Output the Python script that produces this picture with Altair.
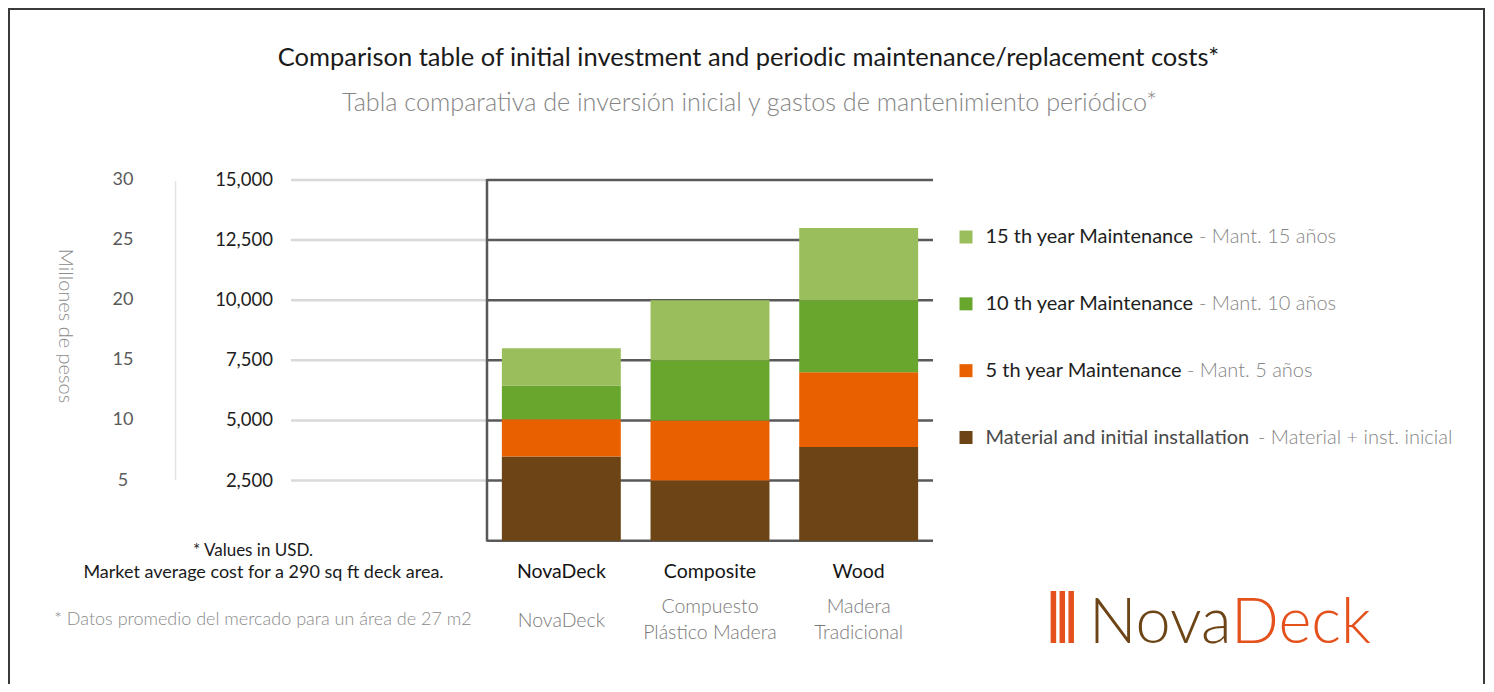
import altair as alt
import pandas as pd

# ---------------- data ----------------
categories = ["NovaDeck", "Composite", "Wood"]
categories_es = ["NovaDeck", "Compuesto\nPlástico Madera", "Madera\nTradicional"]
series = ["Material and initial installation", "5 th year Maintenance",
          "10 th year Maintenance", "15 th year Maintenance"]
series_es = ["Material + inst. inicial", "Mant. 5 años", "Mant. 10 años", "Mant. 15 años"]
colors = ["#6C4415", "#E96000", "#68A62D", "#9BBE5D"]

material = [3500, 2500, 3900]
maint5 = [1550, 2500, 3100]
maint10 = [1400, 2500, 3000]
maint15 = [1550, 2500, 3000]

usd_ticks = [2500, 5000, 7500, 10000, 12500, 15000]
usd_labels = ["2,500", "5,000", "7,500", "10,000", "12,500", "15,000"]
cop_labels = ["5", "10", "15", "20", "25", "30"]
grid_ticks = [0, 2500, 5000, 7500, 10000, 12500, 15000]

# ---------------- tables ----------------
rows = []
for s_i, (s, vals) in enumerate(zip(series, [material, maint5, maint10, maint15])):
    for c, v in zip(categories, vals):
        rows.append({"cat": c, "series": s, "value": v, "ord": s_i})
bars_df = pd.DataFrame(rows)

cat_df = pd.DataFrame({"cat": categories, "es": categories_es})
cat_df["multi"] = cat_df["es"].str.contains("\n")
tick_df = pd.DataFrame({"v": usd_ticks, "usd": usd_labels, "cop": cop_labels})
grid_df = pd.DataFrame({"v": grid_ticks})
leg_df = pd.DataFrame({
    "series": series[::-1],
    "es": ["- " + e for e in series_es[::-1]],
    "idx": list(range(len(series))),
})
one = grid_df[grid_df.v == 0]

# ---------------- scales ----------------
W, H = 1478, 676
FONT = "Lato"
yscale = alt.Scale(domain=[0, 15000], range=[532.7, 172], nice=False, zero=True)
xscale = alt.Scale(domain=categories, range=[479, 925], paddingInner=0.2, paddingOuter=0.1)
cscale = alt.Scale(domain=series, range=colors)
legscale = alt.Scale(domain=[0, 3], range=[229, 429.5])
leg_es_x = alt.Scale(domain=[0, 1, 2, 3], range=[1191, 1191, 1179, 1250])

frame = alt.Chart(one).mark_rect(fill="white", stroke="#3a3a3a", strokeWidth=2).encode(
    x=alt.value(1), x2=alt.value(W - 2), y=alt.value(1), y2=alt.value(H + 20)
)

light_grid = alt.Chart(tick_df).mark_rule(color="#d9d9d9", strokeWidth=2.5).encode(
    y=alt.Y("v:Q", scale=yscale, axis=None), x=alt.value(283), x2=alt.value(479)
)
dark_grid = alt.Chart(grid_df).mark_rule(color="#595959", strokeWidth=2.5).encode(
    y=alt.Y("v:Q", scale=yscale, axis=None), x=alt.value(479), x2=alt.value(925)
)
left_axis = alt.Chart(one).mark_rule(color="#595959", strokeWidth=2.5).encode(
    x=alt.value(479), y=alt.value(171), y2=alt.value(533.5)
)
cop_line = alt.Chart(one).mark_rule(color="#e3e3e3", strokeWidth=1.5).encode(
    x=alt.value(167.5), y=alt.value(173), y2=alt.value(472)
)

usd_text = alt.Chart(tick_df).mark_text(align="right", baseline="middle", font=FONT,
                                        fontSize=18.5, color="#1e1e1e").encode(
    y=alt.Y("v:Q", scale=yscale, axis=None), x=alt.value(265), text="usd:N"
)
cop_text = alt.Chart(tick_df).mark_text(align="center", baseline="middle", font=FONT,
                                        fontSize=18, color="#5a5a5a").encode(
    y=alt.Y("v:Q", scale=yscale, axis=None), x=alt.value(115), text="cop:N"
)

bars = alt.Chart(bars_df).mark_bar().encode(
    x=alt.X("cat:N", scale=xscale, axis=None),
    y=alt.Y("value:Q", stack="zero", scale=yscale, axis=None),
    color=alt.Color("series:N", scale=cscale, legend=None),
    order=alt.Order("ord:Q", sort="ascending"),
)

cat_en = alt.Chart(cat_df).mark_text(align="center", baseline="middle", font=FONT,
                                     fontSize=19.5, color="#151515").encode(
    x=alt.X("cat:N", scale=xscale, axis=None), y=alt.value(564), text="cat:N"
)
es_props = dict(align="center", baseline="middle", font=FONT, fontWeight=300,
                fontSize=19.5, color="#7a7a7a", lineBreak="\n", lineHeight=26)
cat_es_single = alt.Chart(cat_df).mark_text(**es_props).encode(
    x=alt.X("cat:N", scale=xscale, axis=None), y=alt.value(612.5), text="es:N"
).transform_filter("!datum.multi")
cat_es_multi = alt.Chart(cat_df).mark_text(**es_props).encode(
    x=alt.X("cat:N", scale=xscale, axis=None), y=alt.value(599), text="es:N"
).transform_filter("datum.multi")

leg_sq = alt.Chart(leg_df).mark_square(size=169, opacity=1).encode(
    x=alt.value(958), y=alt.Y("idx:Q", scale=legscale, axis=None),
    color=alt.Color("series:N", scale=cscale, legend=None),
)
leg_en = alt.Chart(leg_df).mark_text(align="left", baseline="middle", font=FONT,
                                     fontSize=20).encode(
    x=alt.value(977.5), y=alt.Y("idx:Q", scale=legscale, axis=None), text="series:N",
    color=alt.condition("datum.idx == 3", alt.value("#4a4a4a"), alt.value("#1e1e1e")),
)
leg_es = alt.Chart(leg_df).mark_text(align="left", baseline="middle", font=FONT, fontWeight=300,
                                     fontSize=20, color="#858585").encode(
    x=alt.X("idx:Q", scale=leg_es_x, axis=None),
    y=alt.Y("idx:Q", scale=legscale, axis=None), text="es:N"
)

title_en = alt.Chart(one).mark_text(align="center", baseline="middle", font=FONT,
                                    fontSize=25.5, color="#1a1a1a").encode(
    x=alt.value(740.5), y=alt.value(50),
    text=alt.value("Comparison table of initial investment and periodic maintenance/replacement costs*"),
)
title_es = alt.Chart(one).mark_text(align="center", baseline="middle", font=FONT, fontWeight=300,
                                    fontSize=25.2, color="#858585").encode(
    x=alt.value(741.5), y=alt.value(95),
    text=alt.value("Tabla comparativa de inversión inicial y gastos de mantenimiento periódico*"),
)
ylab = alt.Chart(one).mark_text(align="center", baseline="middle", font=FONT, fontWeight=300,
                                fontSize=20, color="#8a8a8a", angle=90).encode(
    x=alt.value(57), y=alt.value(318), text=alt.value("Millones de pesos"),
)

note1 = alt.Chart(one).mark_text(align="center", baseline="middle", font=FONT,
                                 fontSize=17, color="#1a1a1a").encode(
    x=alt.value(245), y=alt.value(543), text=alt.value("* Values in USD."),
)
note2 = alt.Chart(one).mark_text(align="center", baseline="middle", font=FONT,
                                 fontSize=18, color="#1a1a1a").encode(
    x=alt.value(255.5), y=alt.value(565),
    text=alt.value("Market average cost for a 290 sq ft deck area."),
)
note3 = alt.Chart(one).mark_text(align="center", baseline="middle", font=FONT, fontWeight=300,
                                 fontSize=18, color="#8a8a8a").encode(
    x=alt.value(255), y=alt.value(612),
    text=alt.value("* Datos promedio del mercado para un área de 27 m2"),
)

logo_bars = alt.Chart(pd.DataFrame({"k": [0, 1, 2]})).mark_rule(color="#E5511C", strokeWidth=5.5).encode(
    x=alt.X("k:Q", scale=alt.Scale(domain=[0, 2], range=[1045.4, 1063.2]), axis=None),
    y=alt.value(583), y2=alt.value(635),
)
logo_nova = alt.Chart(one).mark_text(align="left", baseline="alphabetic", font=FONT,
                                     fontWeight=300, fontSize=63, color="#6C4415").encode(
    x=alt.value(1081), y=alt.value(635), text=alt.value("Nova"),
)
logo_deck = alt.Chart(one).mark_text(align="left", baseline="alphabetic", font=FONT,
                                     fontWeight=300, fontSize=63, color="#E5511C").encode(
    x=alt.value(1223), y=alt.value(635), text=alt.value("Deck"),
)

chart = alt.layer(
    frame, light_grid, dark_grid, cop_line, usd_text, cop_text, bars, left_axis,
    cat_en, cat_es_single, cat_es_multi, leg_sq, leg_en, leg_es, title_en, title_es, ylab,
    note1, note2, note3, logo_bars, logo_nova, logo_deck,
).resolve_scale(y="independent", x="independent").properties(
    width=W, height=H, autosize=alt.AutoSizeParams(type="none"), padding=0,
).configure_view(stroke=None)

chart.save("out.html", embed_options={"renderer": "svg", "actions": False})
